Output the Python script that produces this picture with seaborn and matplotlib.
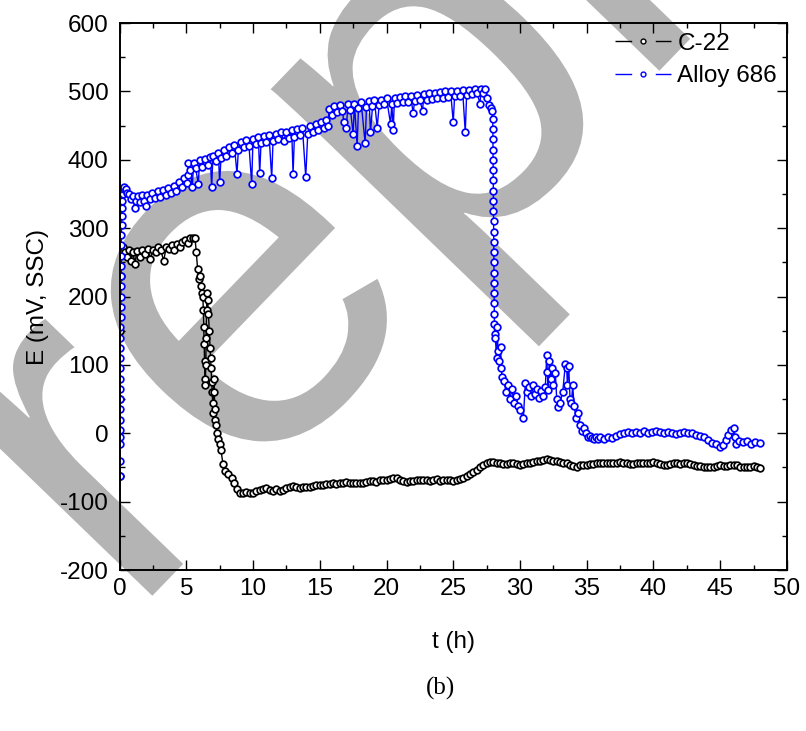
import matplotlib
matplotlib.use("Agg")
import matplotlib.pyplot as plt
import seaborn as sns
import pandas as pd
from matplotlib.lines import Line2D
from matplotlib.textpath import TextPath
from matplotlib.font_manager import FontProperties
from matplotlib.patches import PathPatch
from matplotlib.transforms import Affine2D, IdentityTransform
from matplotlib.ticker import MultipleLocator

# ---------------- data ----------------
series_names = ["C-22", "Alloy 686"]
series_colors = ["#000000", "#0000ff"]

c22_readings = [
    (0.00, -62), (0.03, 50), (0.06, 150), (0.10, 230), (0.15, 265), (0.25, 272),
    (0.40, 265), (0.55, 258), (0.70, 268), (0.85, 252), (1.00, 265), (1.15, 248),
    (1.30, 266), (1.50, 258), (1.70, 268), (1.90, 262), (2.10, 270), (2.30, 255),
    (2.50, 268), (2.70, 265), (2.90, 272), (3.10, 268), (3.30, 252), (3.50, 272),
    (3.70, 270), (3.90, 275), (4.10, 268), (4.30, 277), (4.50, 272), (4.70, 280),
    (4.90, 283), (5.10, 278), (5.30, 286), (5.50, 285), (5.65, 286), (5.75, 265),
    (5.85, 240), (5.95, 225), (6.05, 230), (6.12, 215), (6.18, 205), (6.24, 200),
    (6.28, 180), (6.31, 155), (6.34, 130), (6.37, 105), (6.40, 80), (6.43, 70),
    (6.46, 100), (6.49, 140), (6.52, 180), (6.55, 205), (6.60, 195), (6.66, 175),
    (6.72, 150), (6.78, 125), (6.82, 110), (6.86, 95), (6.90, 75), (6.94, 60),
    (6.98, 45), (7.02, 30), (7.06, 80), (7.10, 60), (7.14, 35), (7.18, 20),
    (7.22, 12), (7.30, 0), (7.40, -8), (7.50, -15), (7.60, -25), (7.75, -45),
    (7.90, -55), (8.10, -60), (8.40, -66), (8.60, -72), (8.80, -82),
    (9.00, -87), (9.25, -88), (9.50, -86), (9.75, -88), (10.00, -87), (10.25, -85),
    (10.50, -83), (10.75, -81), (11.00, -80), (11.25, -83), (11.50, -84), (11.75, -82),
    (12.00, -85), (12.25, -83), (12.50, -80), (12.75, -78), (13.00, -77), (13.25, -79),
    (13.50, -80), (13.75, -79), (14.00, -78), (14.25, -79), (14.50, -77), (14.75, -76),
    (15.00, -75), (15.25, -76), (15.50, -74), (15.75, -74), (16.00, -73), (16.25, -74),
    (16.50, -72), (16.75, -72), (17.00, -71), (17.25, -72), (17.50, -73), (17.75, -72),
    (18.00, -73), (18.25, -72), (18.50, -71), (18.75, -70), (19.00, -70), (19.25, -71),
    (19.50, -69), (19.75, -68), (20.00, -68), (20.25, -67), (20.50, -66), (20.75, -66),
    (21.00, -68), (21.25, -70), (21.50, -71), (21.75, -70), (22.00, -70), (22.25, -69),
    (22.50, -68), (22.75, -68), (23.00, -69), (23.25, -70), (23.50, -68), (23.75, -67),
    (24.00, -70), (24.25, -69), (24.50, -68), (24.75, -69), (25.00, -70), (25.25, -68),
    (25.50, -67), (25.75, -65), (26.00, -63), (26.25, -60), (26.50, -56), (26.75, -53),
    (27.00, -50), (27.25, -47), (27.50, -44), (27.75, -42), (28.00, -42), (28.25, -43),
    (28.50, -44), (28.75, -45), (29.00, -45), (29.25, -44), (29.50, -43), (29.75, -45),
    (30.00, -46), (30.25, -45), (30.50, -44), (30.75, -43), (31.00, -42), (31.25, -41),
    (31.50, -40), (31.75, -39), (32.00, -38), (32.25, -39), (32.50, -40), (32.75, -41),
    (33.00, -42), (33.25, -43), (33.50, -44), (33.75, -46), (34.00, -48), (34.25, -49),
    (34.50, -47), (34.75, -46), (35.00, -46), (35.25, -45), (35.50, -45), (35.75, -44),
    (36.00, -44), (36.25, -43), (36.50, -43), (36.75, -44), (37.00, -44), (37.25, -43),
    (37.50, -42), (37.75, -43), (38.00, -44), (38.25, -45), (38.50, -45), (38.75, -44),
    (39.00, -43), (39.25, -44), (39.50, -44), (39.75, -43), (40.00, -42), (40.25, -43),
    (40.50, -45), (40.75, -46), (41.00, -46), (41.25, -45), (41.50, -44), (41.75, -44),
    (42.00, -45), (42.25, -44), (42.50, -43), (42.75, -45), (43.00, -47), (43.25, -48),
    (43.50, -48), (43.75, -49), (44.00, -50), (44.25, -50), (44.50, -49), (44.75, -48),
    (45.00, -47), (45.25, -48), (45.50, -48), (45.75, -47), (46.00, -46), (46.25, -47),
    (46.50, -49), (46.75, -50), (47.00, -50), (47.25, -49), (47.50, -48), (47.75, -50),
    (48.00, -51),
]

a686_readings = [
    (0.000, -62), (0.005, -40), (0.010, -15), (0.015, -5), (0.020, 5), (0.025, 20),
    (0.030, 35), (0.035, 50), (0.040, 65), (0.045, 80), (0.050, 95), (0.055, 110),
    (0.060, 125), (0.065, 140), (0.070, 155), (0.075, 170), (0.080, 185), (0.085, 200),
    (0.090, 215), (0.095, 230), (0.100, 245), (0.110, 260), (0.120, 275), (0.135, 290),
    (0.150, 305), (0.170, 318), (0.190, 330), (0.220, 340), (0.260, 350), (0.300, 357),
    (0.350, 360), (0.45, 357), (0.55, 352), (0.70, 350), (0.85, 342), (1.00, 347),
    (1.15, 329), (1.25, 340), (1.40, 347), (1.55, 338), (1.70, 348), (1.85, 340),
    (1.95, 332), (2.05, 349), (2.25, 342), (2.45, 351), (2.65, 344), (2.85, 354),
    (3.05, 346), (3.25, 356), (3.45, 348), (3.65, 359), (3.85, 351), (4.05, 362),
    (4.25, 355), (4.45, 368), (4.65, 360), (4.85, 374), (5.05, 366), (5.12, 378),
    (5.15, 395), (5.30, 385), (5.45, 360), (5.55, 396), (5.70, 388), (5.90, 365),
    (6.00, 399), (6.20, 390), (6.40, 401), (6.60, 392), (6.80, 404), (6.90, 360),
    (7.00, 406), (7.20, 398), (7.40, 410), (7.50, 367), (7.60, 402), (7.80, 414),
    (8.00, 405), (8.20, 418), (8.40, 410), (8.60, 422), (8.80, 379), (8.90, 414),
    (9.10, 426), (9.30, 418), (9.50, 429), (9.70, 420), (9.90, 365), (10.00, 431),
    (10.20, 423), (10.40, 433), (10.50, 380), (10.60, 425), (10.80, 435), (11.00, 426),
    (11.20, 436), (11.40, 373), (11.50, 428), (11.70, 438), (11.90, 430), (12.10, 440),
    (12.30, 428), (12.50, 441), (12.70, 432), (12.90, 443), (13.00, 379), (13.10, 434),
    (13.30, 445), (13.50, 436), (13.70, 447), (13.95, 375), (14.10, 438), (14.30, 450),
    (14.50, 440), (14.70, 452), (14.90, 443), (15.10, 455), (15.30, 446), (15.50, 458),
    (15.60, 450), (15.70, 474), (15.90, 466), (16.10, 478), (16.30, 470), (16.50, 480),
    (16.70, 472), (16.80, 455), (17.00, 447), (17.10, 481), (17.30, 473), (17.50, 438),
    (17.60, 482), (17.80, 420), (17.90, 475), (18.10, 484), (18.40, 424), (18.50, 477),
    (18.70, 486), (18.80, 440), (18.95, 478), (19.10, 487), (19.30, 447), (19.45, 480),
    (19.60, 488), (19.80, 481), (20.00, 490), (20.30, 453), (20.40, 482), (20.50, 443),
    (20.60, 491), (20.80, 483), (21.00, 492), (21.20, 484), (21.40, 493), (21.60, 485),
    (21.80, 494), (22.00, 468), (22.10, 486), (22.30, 495), (22.50, 487), (22.70, 472),
    (22.80, 496), (23.00, 488), (23.20, 497), (23.40, 489), (23.60, 498), (23.80, 490),
    (24.00, 499), (24.20, 491), (24.40, 500), (24.60, 492), (24.80, 500), (25.00, 455),
    (25.10, 493), (25.30, 501), (25.50, 494), (25.70, 502), (25.90, 440), (26.00, 495),
    (26.20, 502), (26.40, 496), (26.60, 503), (26.80, 497), (27.00, 482), (27.10, 504),
    (27.25, 498), (27.35, 503), (27.50, 490), (27.65, 480), (27.80, 476), (27.90, 472),
    (27.960, 460), (27.966, 445), (27.972, 430), (27.978, 415), (27.984, 400),
    (27.990, 385), (27.996, 370), (28.002, 355), (28.008, 340), (28.014, 325),
    (28.020, 310), (28.026, 295), (28.032, 280), (28.038, 265), (28.044, 250),
    (28.050, 235), (28.056, 220), (28.062, 205), (28.068, 190), (28.074, 175),
    (28.080, 160), (28.090, 145), (28.15, 140), (28.25, 110), (28.30, 155), (28.35, 120),
    (28.40, 105), (28.55, 126), (28.60, 95), (28.65, 82), (28.80, 77), (28.95, 60),
    (29.10, 70), (29.25, 50), (29.40, 65), (29.55, 44), (29.70, 55), (29.85, 40),
    (30.00, 34), (30.25, 22), (30.40, 73), (30.55, 60), (30.70, 67), (30.85, 55),
    (31.00, 70), (31.15, 58), (31.30, 65), (31.45, 52), (31.60, 62), (31.75, 55),
    (31.90, 68), (32.00, 114), (32.05, 90), (32.10, 63), (32.20, 105), (32.30, 80),
    (32.40, 95), (32.50, 70), (32.65, 88), (32.75, 50), (32.85, 38), (33.00, 45),
    (33.20, 60), (33.40, 102), (33.50, 95), (33.55, 70), (33.65, 98), (33.75, 50),
    (33.85, 44), (33.95, 70), (34.05, 40), (34.20, 23), (34.35, 30), (34.50, 12),
    (34.65, 4), (34.80, 8), (34.95, 0), (35.10, -6), (35.25, -4), (35.40, -7),
    (35.55, -8), (35.70, -6), (35.85, -8), (36.00, -6), (36.30, -8), (36.60, -5),
    (36.90, -7), (37.20, -4), (37.50, -1), (37.80, 0), (38.10, 2), (38.40, 1),
    (38.70, 2), (39.00, 1), (39.30, 3), (39.60, 1), (39.90, 2), (40.20, 3),
    (40.50, 2), (40.80, 0), (41.10, 2), (41.40, 1), (41.70, -1), (42.00, 0),
    (42.30, 2), (42.60, 1), (42.90, 0), (43.20, -2), (43.50, -4), (43.80, -6),
    (44.10, -10), (44.40, -14), (44.70, -16), (45.00, -20), (45.20, -17), (45.40, -10),
    (45.60, -3), (45.80, 5), (46.00, 8), (46.10, -5), (46.20, -15), (46.40, -12),
    (46.70, -13), (47.00, -12), (47.30, -15), (47.60, -13), (48.00, -14),
]

x_ticks = [0, 5, 10, 15, 20, 25, 30, 35, 40, 45, 50]
y_ticks = [-200, -100, 0, 100, 200, 300, 400, 500, 600]
x_label = "t (h)"
y_label = "E (mV, SSC)"
caption = "(b)"
watermark_text = "reprint"

# ---------------- build table ----------------
frames = []
for name, readings in zip(series_names, [c22_readings, a686_readings]):
    df = pd.DataFrame(readings, columns=["t", "E"])
    df["alloy"] = name
    frames.append(df)
data = pd.concat(frames, ignore_index=True)

# ---------------- style ----------------
sns.set_style("white")
plt.rcParams["font.family"] = ["Liberation Sans", "DejaVu Sans"]
plt.rcParams["lines.scale_dashes"] = False
plt.rcParams["axes.unicode_minus"] = False
plt.rcParams["text.color"] = "black"
plt.rcParams["axes.labelcolor"] = "black"
plt.rcParams["xtick.color"] = "black"
plt.rcParams["ytick.color"] = "black"
FS = 17.5

fig = plt.figure(figsize=(8.06, 7.31), dpi=100)
fig.patch.set_facecolor("white")
ax = fig.add_axes([0.1483, 0.2202, 0.8281, 0.7483])
ax.set_facecolor("none")

# watermark (grey letters behind the data), placed by its text origin in pixels
wm_prop = FontProperties(family="Liberation Sans")
wm_path = TextPath((0, 0), watermark_text, size=1, prop=wm_prop)
em = 505.0
angle = 46.0
ox, oy = 128.0, 731.0 - 621.0
wm_tr = Affine2D().scale(em).rotate_deg(angle).translate(ox, oy)
wm_patch = PathPatch(wm_tr.transform_path(wm_path), facecolor="#b4b4b4",
                     edgecolor="none", transform=IdentityTransform(), zorder=-1)
fig.add_artist(wm_patch)

for name, color in zip(series_names, series_colors):
    sub = data[data["alloy"] == name]
    sns.lineplot(data=sub, x="t", y="E", ax=ax, sort=False, estimator=None,
                 color=color, linewidth=1.0, marker="o", markersize=4.8,
                 markerfacecolor="white", markeredgecolor=color,
                 markeredgewidth=1.25, legend=False)

ax.set_xlim(0, 50)
ax.set_ylim(-200, 600)
ax.set_xticks(x_ticks)
ax.set_yticks(y_ticks)
ax.xaxis.set_minor_locator(MultipleLocator(2.5))
ax.yaxis.set_minor_locator(MultipleLocator(50))
ax.tick_params(which="both", direction="in", top=True, right=True,
               bottom=True, left=True, color="black", width=1.0)
ax.tick_params(which="major", length=7)
ax.tick_params(which="minor", length=3.5)
ax.tick_params(axis="x", which="major", labelsize=FS, pad=6)
ax.tick_params(axis="y", which="major", labelsize=FS, pad=8)
for sp in ax.spines.values():
    sp.set_visible(True)
    sp.set_color("black")
    sp.set_linewidth(1.4)

ax.set_xlabel(x_label, fontsize=FS)
ax.set_ylabel(y_label, fontsize=FS)
ax.xaxis.set_label_coords(0.5, -0.112)
ax.yaxis.set_label_coords(-0.106, 0.5)

handles = []
for name, color in zip(series_names, series_colors):
    handles.append(Line2D([], [], color=color, linewidth=1.0,
                          linestyle=(0, (12, 17)), marker="o", markersize=3.5,
                          markerfacecolor="white", markeredgecolor=color,
                          markeredgewidth=1.0))
ax.legend(handles, series_names, loc="upper right", bbox_to_anchor=(0.985, 0.982),
          frameon=False, fontsize=FS, handlelength=2.33, handletextpad=0.25,
          borderpad=0, borderaxespad=0, labelspacing=0.43, numpoints=1)

fig.text(440 / 806, 1 - 688 / 731, caption, ha="center", va="center",
         fontsize=18, family=["Liberation Serif", "DejaVu Serif"])

fig.savefig("out.png", dpi=100, facecolor="white")
